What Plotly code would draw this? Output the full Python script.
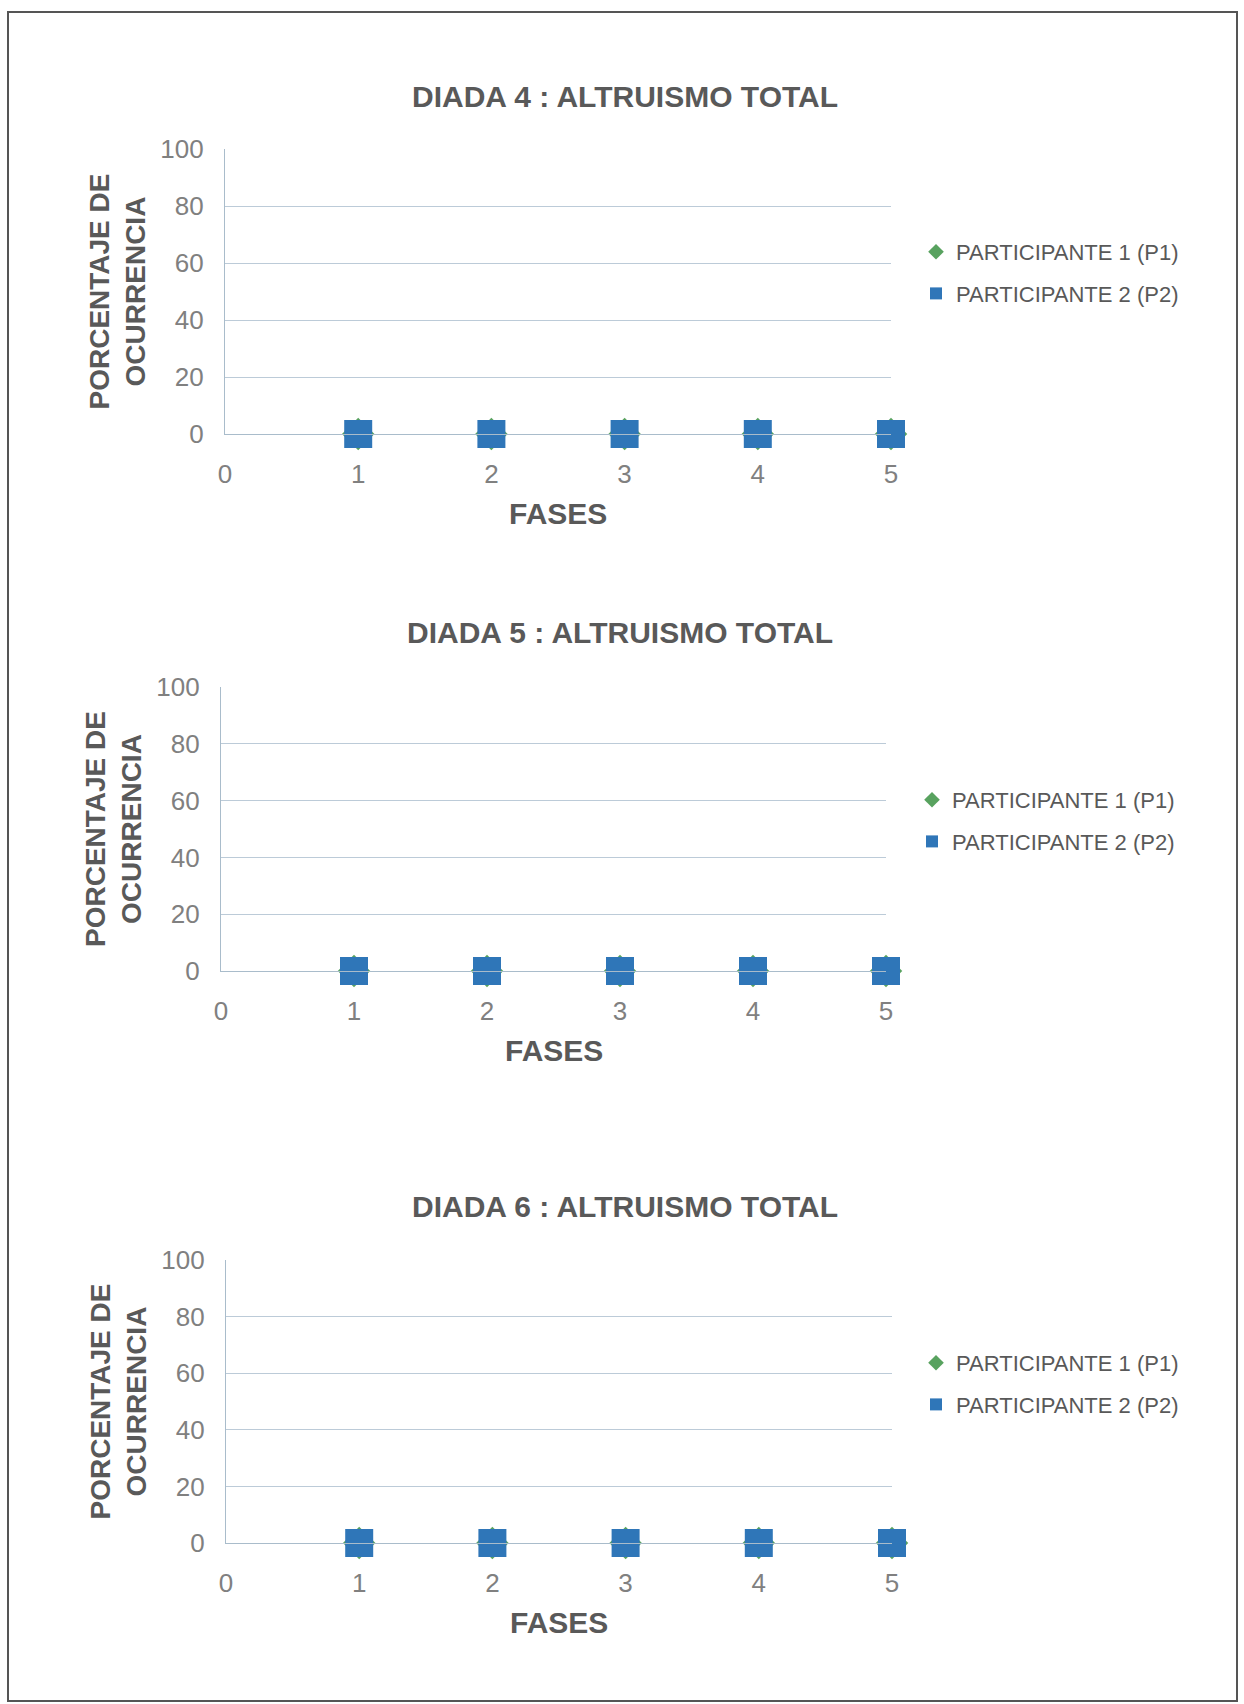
import plotly.graph_objects as go

W, H = 1244, 1704

# ---- data -------------------------------------------------------------
fases = [1, 2, 3, 4, 5]
x_ticks = [0, 1, 2, 3, 4, 5]
y_ticks = [0, 20, 40, 60, 80, 100]

chart_titles = [
    "DIADA 4 : ALTRUISMO TOTAL",
    "DIADA 5 : ALTRUISMO TOTAL",
    "DIADA 6 : ALTRUISMO TOTAL",
]
series_names = ["PARTICIPANTE 1 (P1)", "PARTICIPANTE 2 (P2)"]

p1_diada4 = [0, 0, 0, 0, 0]
p2_diada4 = [0, 0, 0, 0, 0]
p1_diada5 = [0, 0, 0, 0, 0]
p2_diada5 = [0, 0, 0, 0, 0]
p1_diada6 = [0, 0, 0, 0, 0]
p2_diada6 = [0, 0, 0, 0, 0]

series = [
    (p1_diada4, p2_diada4),
    (p1_diada5, p2_diada5),
    (p1_diada6, p2_diada6),
]

# ---- styling ----------------------------------------------------------
FONT = "Liberation Sans, Arial, sans-serif"
TEXT_DARK = "#595959"
TEXT_LIGHT = "#808080"
GRID = "#bccbd8"
AXIS = "#a9bccb"
GREEN = "#58a25f"
BLUE = "#2f76b8"

# panel placement in page pixels
panels = [
    dict(l=225, r=891, t=149, b=434, tx=625, ty=96, lx=916, ly=273),
    dict(l=221, r=886, t=687, b=971, tx=620, ty=632, lx=912, ly=821),
    dict(l=226, r=892, t=1260, b=1543, tx=625, ty=1206, lx=916, ly=1384),
]


def fx(px):
    return px / W


def fy(py):
    return 1 - py / H


fig = go.Figure()
annotations = []
layout_axes = {}

for i, (pan, (p1, p2), title) in enumerate(zip(panels, series, chart_titles), start=1):
    sfx = "" if i == 1 else str(i)
    legend_id = "legend" if i == 1 else f"legend{i}"

    fig.add_trace(go.Scatter(
        x=fases, y=p1, mode="markers", name=series_names[0],
        marker=dict(symbol="diamond", size=25, color=GREEN),
        xaxis=f"x{sfx}", yaxis=f"y{sfx}", cliponaxis=False,
        legend=legend_id, legendgroup=f"g{i}a",
    ))
    fig.add_trace(go.Scatter(
        x=fases, y=p2, mode="markers", name=series_names[1],
        marker=dict(symbol="square", size=28, color=BLUE),
        xaxis=f"x{sfx}", yaxis=f"y{sfx}", cliponaxis=False,
        legend=legend_id, legendgroup=f"g{i}b",
    ))

    layout_axes[f"xaxis{sfx}"] = dict(
        domain=[fx(pan["l"]), fx(pan["r"])], range=[0, 5],
        tickmode="array", tickvals=x_ticks, ticks="",
        showgrid=False, zeroline=False, showline=True,
        linecolor=AXIS, linewidth=1.3,
        tickfont=dict(family=FONT, size=26, color=TEXT_LIGHT),
        ticklabelstandoff=17, automargin=False,
        anchor=f"y{sfx}", fixedrange=True,
    )
    layout_axes[f"yaxis{sfx}"] = dict(
        domain=[fy(pan["b"]), fy(pan["t"])], range=[0, 100],
        tickmode="array", tickvals=y_ticks, ticks="",
        showgrid=True, gridcolor=GRID, gridwidth=1.3,
        zeroline=False, showline=True, linecolor=AXIS, linewidth=1.3,
        tickfont=dict(family=FONT, size=26, color=TEXT_LIGHT),
        ticklabelstandoff=15, automargin=False,
        anchor=f"x{sfx}", fixedrange=True,
    )

    layout_axes[legend_id] = dict(
        x=fx(pan["lx"]), y=fy(pan["ly"]), xanchor="left", yanchor="middle",
        font=dict(family=FONT, size=22, color=TEXT_DARK),
        bgcolor="rgba(0,0,0,0)", itemwidth=30, tracegroupgap=10,
        itemsizing="constant",
    )

    # chart title
    annotations.append(dict(
        text=title, x=fx(pan["tx"]), y=fy(pan["ty"]),
        xref="paper", yref="paper", xanchor="center", yanchor="middle",
        showarrow=False,
        font=dict(family=FONT, size=30, color=TEXT_DARK, weight="bold"),
    ))
    # y axis title
    annotations.append(dict(
        text="PORCENTAJE DE<br>OCURRENCIA",
        x=fx(pan["l"] - 108), y=fy((pan["t"] + pan["b"]) / 2),
        xref="paper", yref="paper", xanchor="center", yanchor="middle",
        textangle=-90, showarrow=False,
        font=dict(family=FONT, size=28, color=TEXT_DARK, weight="bold"),
    ))
    # x axis title
    annotations.append(dict(
        text="FASES",
        x=fx((pan["l"] + pan["r"]) / 2), y=fy(pan["b"] + 79),
        xref="paper", yref="paper", xanchor="center", yanchor="middle",
        showarrow=False,
        font=dict(family=FONT, size=30, color=TEXT_DARK, weight="bold"),
    ))

fig.update_layout(
    width=W, height=H,
    margin=dict(l=0, r=0, t=0, b=0, autoexpand=False),
    paper_bgcolor="white", plot_bgcolor="white",
    showlegend=True,
    annotations=annotations,
    shapes=[dict(
        type="rect", xref="paper", yref="paper",
        x0=fx(8), x1=fx(1237), y0=fy(1701), y1=fy(12),
        line=dict(color="#555555", width=2),
    )],
    **layout_axes,
)

fig.write_html(
    "out.html", include_plotlyjs=True, config={"displayModeBar": False},
    post_script="document.body.style.margin='0';document.body.style.overflow='hidden';",
)
